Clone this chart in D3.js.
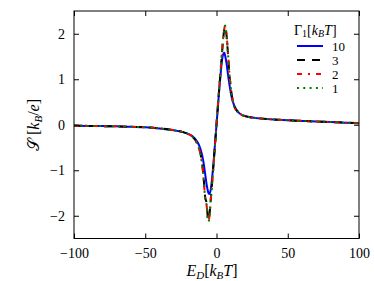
<!DOCTYPE html>
<html><head><meta charset="utf-8">
<script src="https://cdn.jsdelivr.net/npm/d3@7"></script>
<style>body{margin:0;background:#fff}svg{display:block}</style>
</head><body>
<svg id="c" width="374" height="281"></svg>
<script>
const energies = [-100,-90,-80,-70,-60,-50,-40,-30,-25,-20,-17,-15,-13,-12,-11,-10,-9,-8,-7,-6,-5.5,-5,-4,-3,-2,-1,0,1,2,3,4,5,5.5,6,7,8,9,10,11,12,13,15,17,20,25,30,40,50,60,70,80,90,100];
const sGamma10 = [-0.02,-0.025,-0.03,-0.035,-0.045,-0.055,-0.08,-0.12,-0.15,-0.2,-0.25,-0.31,-0.4,-0.47,-0.56,-0.68,-0.85,-1.07,-1.3,-1.46,-1.51,-1.52,-1.42,-1.15,-0.8,-0.4,0,0.4,0.8,1.15,1.45,1.57,1.58,1.53,1.36,1.12,0.9,0.71,0.56,0.46,0.38,0.29,0.23,0.19,0.16,0.14,0.115,0.1,0.085,0.07,0.06,0.045,0.035];
const sGamma3 = [-0.02,-0.025,-0.03,-0.035,-0.045,-0.055,-0.08,-0.12,-0.15,-0.2,-0.26,-0.33,-0.45,-0.54,-0.67,-0.87,-1.18,-1.58,-1.72,-2.05,-2.1,-2.0,-1.63,-1.24,-0.84,-0.42,0,0.42,0.84,1.24,1.63,1.98,2.1,2.15,1.98,1.58,1.14,0.82,0.6,0.46,0.37,0.28,0.23,0.19,0.16,0.14,0.115,0.1,0.085,0.07,0.06,0.045,0.035];
const sGamma2 = [-0.02,-0.025,-0.03,-0.035,-0.045,-0.055,-0.08,-0.12,-0.15,-0.2,-0.26,-0.33,-0.46,-0.55,-0.68,-0.88,-1.2,-1.6,-1.75,-2.07,-2.12,-2.01,-1.64,-1.25,-0.85,-0.43,0,0.43,0.85,1.25,1.65,1.99,2.12,2.17,2.0,1.6,1.15,0.82,0.6,0.46,0.37,0.28,0.23,0.19,0.16,0.14,0.115,0.1,0.085,0.07,0.06,0.045,0.035];
const sGamma1 = [-0.02,-0.025,-0.03,-0.035,-0.045,-0.055,-0.08,-0.12,-0.15,-0.2,-0.26,-0.33,-0.46,-0.55,-0.68,-0.88,-1.2,-1.6,-1.76,-2.08,-2.13,-2.02,-1.65,-1.25,-0.85,-0.43,0,0.43,0.85,1.25,1.65,2.0,2.13,2.18,2.0,1.6,1.15,0.82,0.6,0.46,0.37,0.28,0.23,0.19,0.16,0.14,0.115,0.1,0.085,0.07,0.06,0.045,0.035];
const legendLabels = ["10","3","2","1"];
const xTicks = [-100,-50,0,50,100];
const yTicks = [-2,-1,0,1,2];

const series = [
  {label: legendLabels[0], values: sGamma10, color: "#0000ff", dash: null},
  {label: legendLabels[1], values: sGamma3, color: "#000000", dash: "8,7"},
  {label: legendLabels[2], values: sGamma2, color: "#ff0000", dash: "5,6,2,6"},
  {label: legendLabels[3], values: sGamma1, color: "#008000", dash: "2,4.3"}
];

const svg = d3.select("#c");
const L = 74, R = 359, T = 11, B = 238.5;
const x = d3.scaleLinear().domain([-100,100]).range([L,R]);
const y = d3.scaleLinear().domain([-2.5,2.5]).range([B,T]);
const font = "'Liberation Serif', 'DejaVu Serif', serif";

svg.append("defs").append("clipPath").attr("id","clip")
  .append("rect").attr("x",L).attr("y",T).attr("width",R-L).attr("height",B-T);

const line = d3.line().x((d,i)=>x(energies[i])).y(d=>y(d)).curve(d3.curveMonotoneX);
const g = svg.append("g").attr("clip-path","url(#clip)");
series.forEach(s=>{
  g.append("path").attr("d", line(s.values)).attr("fill","none")
    .attr("stroke", s.color).attr("stroke-width", 2)
    .attr("stroke-dasharray", s.dash);
});

function styleAxis(sel){
  sel.select(".domain").remove();
  sel.selectAll(".tick line").attr("stroke","#000").attr("stroke-width",1);
  sel.selectAll("text").attr("font-family",font).attr("font-size",14).attr("fill","#000");
}
const fmt = d3.format("");
svg.append("g").attr("transform",`translate(0,${B})`)
  .call(d3.axisBottom(x).tickValues(xTicks).tickSizeInner(-5).tickSizeOuter(0).tickPadding(10).tickFormat(d=>fmt(d)))
  .call(styleAxis);
svg.append("g").attr("transform",`translate(0,${T})`)
  .call(d3.axisTop(x).tickValues(xTicks).tickSizeInner(-5).tickSizeOuter(0).tickFormat(""))
  .call(styleAxis);
svg.append("g").attr("transform",`translate(${L},0)`)
  .call(d3.axisLeft(y).tickValues(yTicks).tickSizeInner(-5).tickSizeOuter(0).tickPadding(9).tickFormat(d=>fmt(d)))
  .call(styleAxis);
svg.append("g").attr("transform",`translate(${R},0)`)
  .call(d3.axisRight(y).tickValues(yTicks).tickSizeInner(-5).tickSizeOuter(0).tickFormat(""))
  .call(styleAxis);

svg.append("rect").attr("x",L).attr("y",T).attr("width",R-L).attr("height",B-T)
  .attr("fill","none").attr("stroke","#000").attr("stroke-width",1);

const xl = svg.append("text").attr("x",212).attr("y",276).attr("text-anchor","middle")
  .attr("font-family",font).attr("font-size",16);
xl.append("tspan").attr("font-style","italic").text("E");
xl.append("tspan").attr("font-style","italic").attr("font-size",11).attr("dy",3).text("D");
xl.append("tspan").attr("dy",-3).text("[");
xl.append("tspan").attr("font-style","italic").text("k");
xl.append("tspan").attr("font-style","italic").attr("font-size",11).attr("dy",3).text("B");
xl.append("tspan").attr("font-style","italic").attr("dy",-3).text("T");
xl.append("tspan").text("]");

const yl = svg.append("text").attr("transform","translate(39,125) rotate(-90)").attr("text-anchor","middle")
  .attr("font-family",font).attr("font-size",16);
yl.append("tspan").text("𝒮");
yl.append("tspan").text(" [");
yl.append("tspan").attr("font-style","italic").text("k");
yl.append("tspan").attr("font-style","italic").attr("font-size",11).attr("dy",3).text("B");
yl.append("tspan").attr("dy",-3).text("/");
yl.append("tspan").attr("font-style","italic").text("e");
yl.append("tspan").text("]");

const lt = svg.append("text").attr("x",294).attr("y",35).attr("font-family",font).attr("font-size",14);
lt.append("tspan").text("Γ");
lt.append("tspan").attr("font-size",10).attr("dy",2).text("1");
lt.append("tspan").attr("dy",-2).text("[");
lt.append("tspan").attr("font-style","italic").text("k");
lt.append("tspan").attr("font-style","italic").attr("font-size",10).attr("dy",2).text("B");
lt.append("tspan").attr("font-style","italic").attr("dy",-2).text("T");
lt.append("tspan").text("]");

series.forEach((s,i)=>{
  const yy = 46 + i*14;
  svg.append("line").attr("x1",297).attr("x2",323).attr("y1",yy).attr("y2",yy)
    .attr("stroke",s.color).attr("stroke-width",2).attr("stroke-dasharray",s.dash);
  svg.append("text").attr("x",332).attr("y",yy+4.5).attr("font-family",font).attr("font-size",13).text(s.label);
});
</script>
</body></html>
